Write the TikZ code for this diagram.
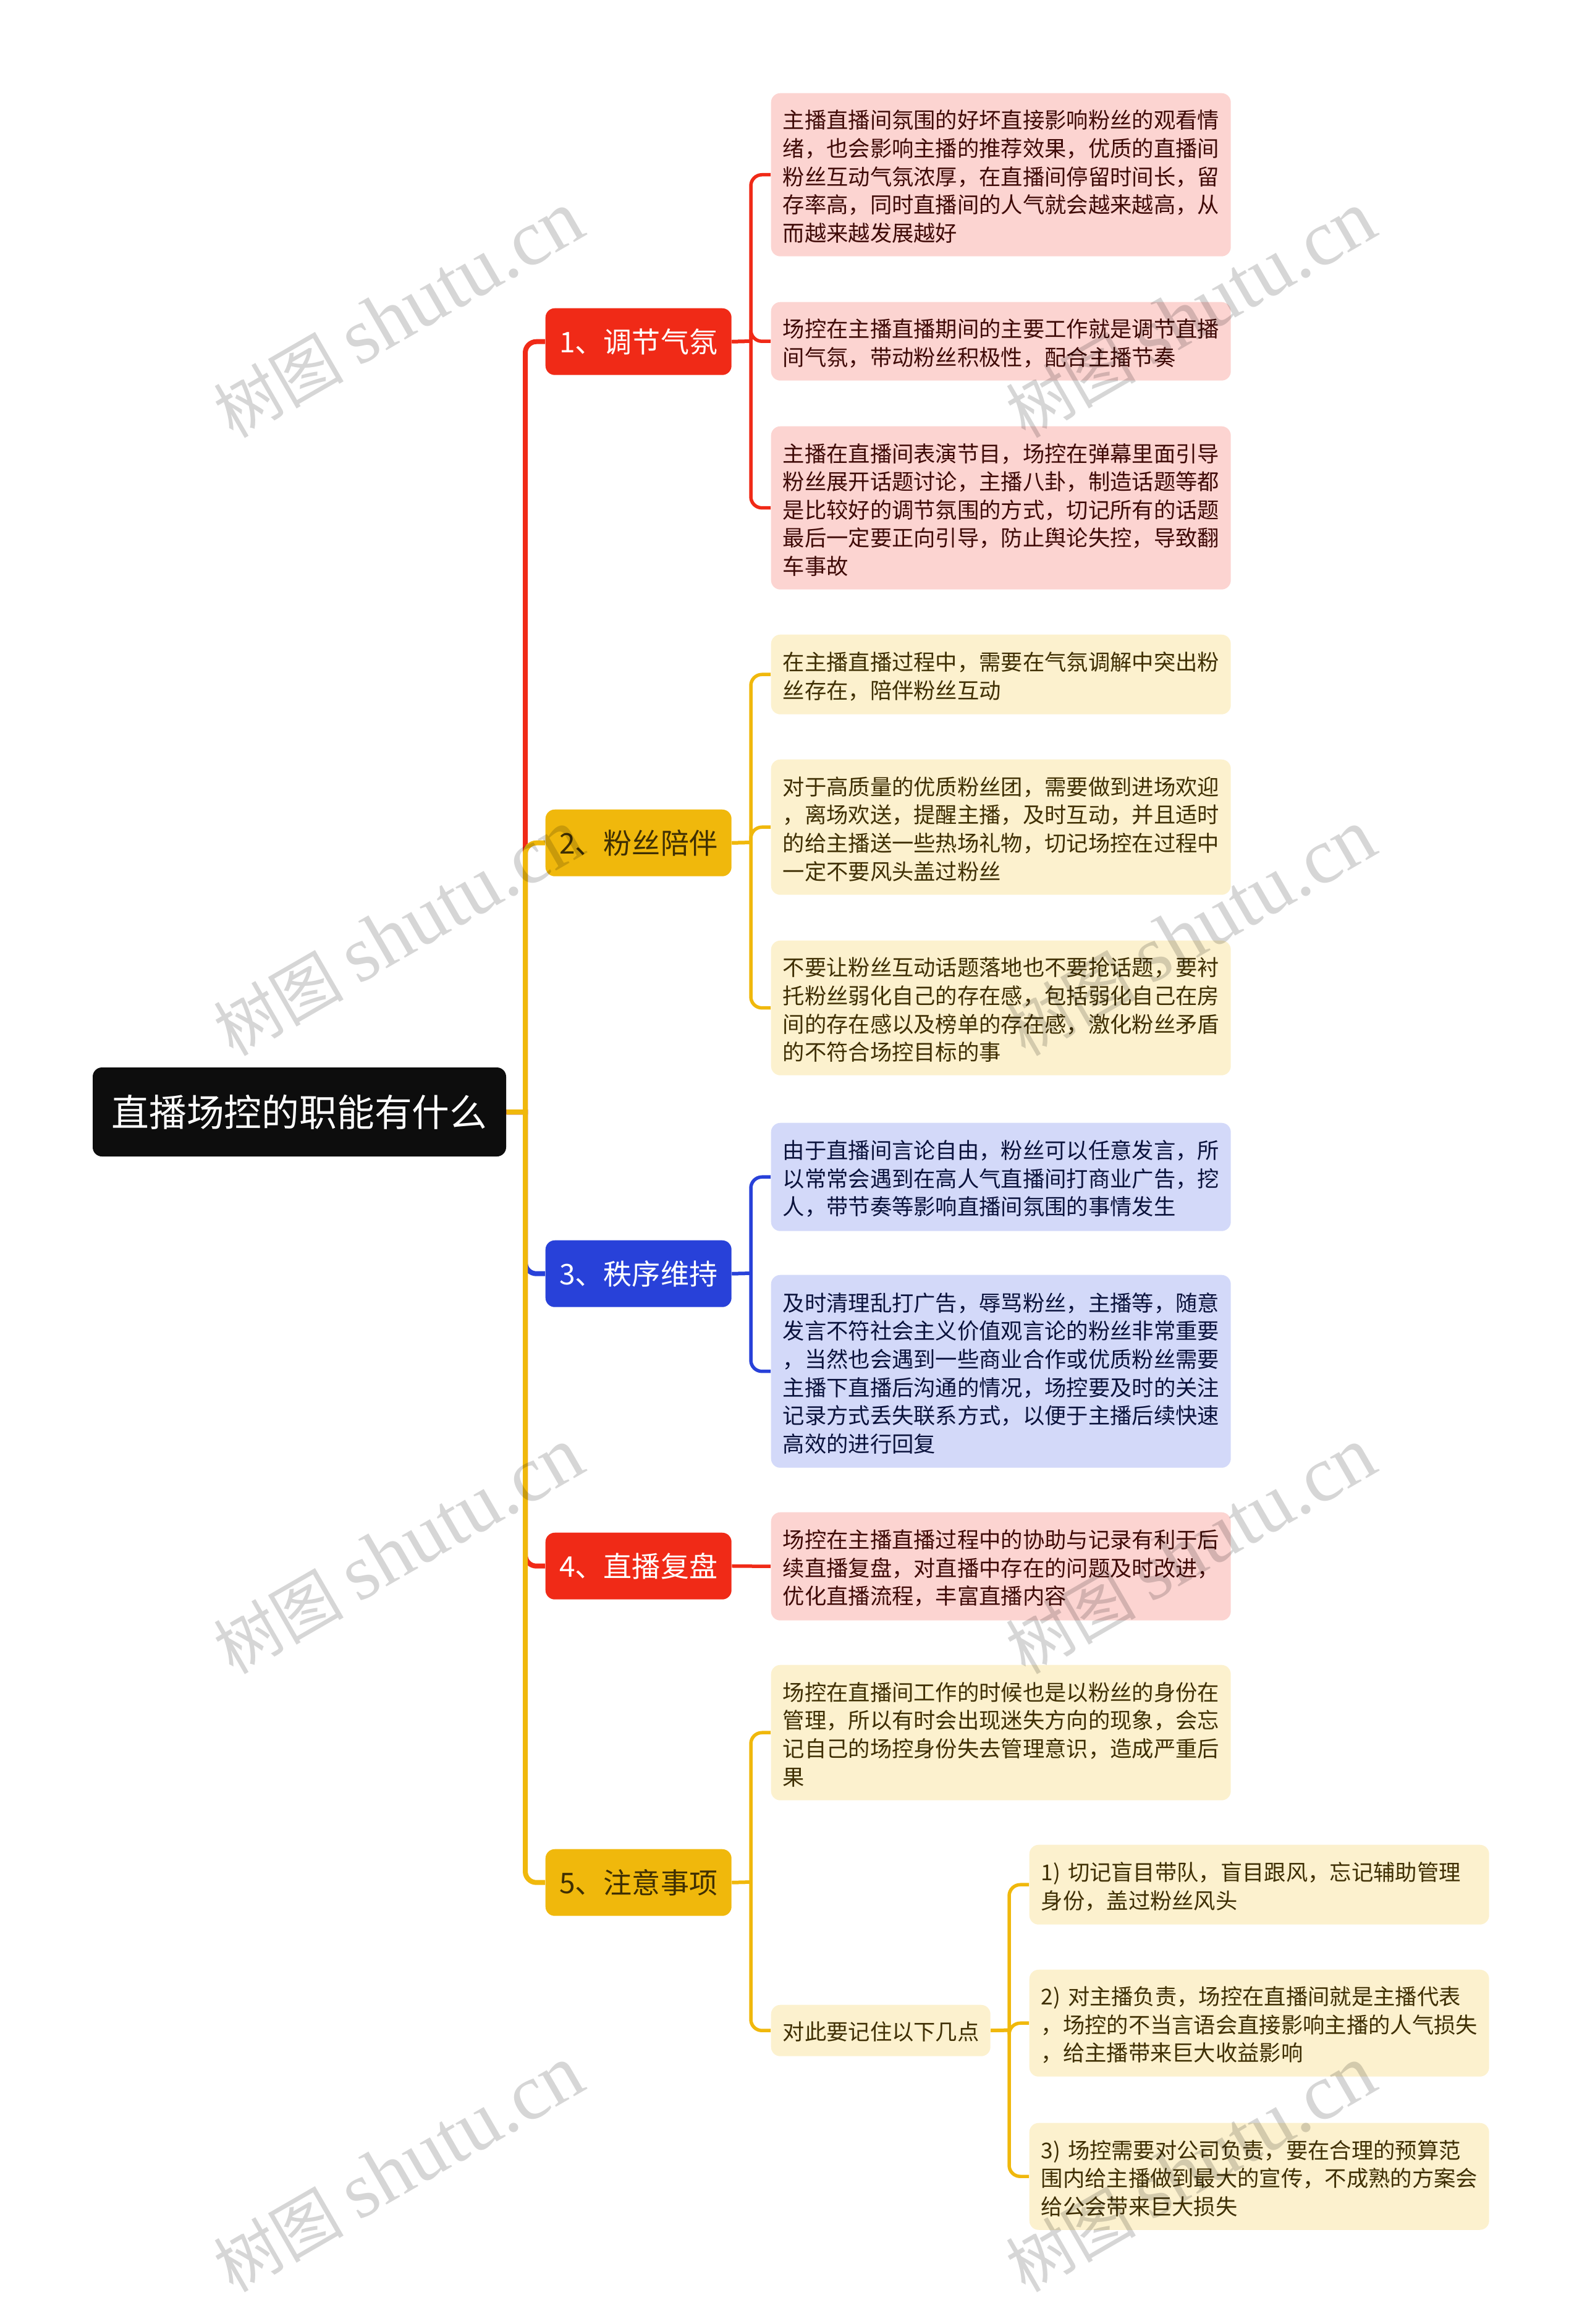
\documentclass[tikz,border=0pt]{standalone}
\usepackage{fontspec}
\setmainfont{Noto Sans CJK SC}
\newfontfamily\latinmark{Liberation Serif}
\definecolor{redmain}{HTML}{F02A17}
\definecolor{yellowmain}{HTML}{F0B80C}
\definecolor{bluemain}{HTML}{2841D9}
\definecolor{redsoft}{HTML}{FCD4D1}
\definecolor{yellowsoft}{HTML}{FCF1CE}
\definecolor{bluesoft}{HTML}{D3D9F9}
\definecolor{redink}{HTML}{3F0A07}
\definecolor{yellowink}{HTML}{3F2F03}
\definecolor{blueink}{HTML}{0A123C}
\newcommand{\linkdraw}[4]{\draw[#1] (#2) -- (#3) [rounded corners=.18cm] |- (#4)}
\tikzset{
  box/.style={rounded corners=.15cm, inner sep=0pt, inner xsep=.19cm, align=left, anchor=north west,
    text width=7.06cm, font=\fontsize{10.05}{12.97}\selectfont, execute at end node={\par\vspace*{-.06cm}}},
  leafred/.style={box, fill=redsoft, text=redink},
  leafyellow/.style={box, fill=yellowsoft, text=yellowink},
  leafblue/.style={box, fill=bluesoft, text=blueink},
  branch/.style={rounded corners=.15cm, anchor=north west, inner sep=0pt, minimum width=3.01cm, minimum height=1.08cm,
    font=\fontsize{13.1}{15}\selectfont},
  trunkline/.style={line width=.08cm},
  redline/.style={trunkline, draw=redmain},
  yellowline/.style={trunkline, draw=yellowmain},
  blueline/.style={trunkline, draw=bluemain},
  thinred/.style={line width=.055cm, draw=redmain},
  thinyellow/.style={line width=.055cm, draw=yellowmain},
  thinblue/.style={line width=.055cm, draw=bluemain},
}
\begin{document}
\begin{tikzpicture}[y=-1cm]
  \useasboundingbox (0,0) rectangle (25.6,37.6);

  \node[rounded corners=.15cm, fill=black!95, text=white, minimum width=6.69cm, minimum height=1.44cm, inner sep=0pt,
    font=\fontsize{17.3}{20}\selectfont] (root) at (4.845,17.99) {直播场控的职能有什么};

  \node[branch, fill=redmain, text=white] (b1) at (8.82,4.98) {1、调节气氛};
  \node[branch, fill=yellowmain, text=yellowink] (b2) at (8.82,13.09) {2、粉丝陪伴};
  \node[branch, fill=bluemain, text=white] (b3) at (8.82,20.06) {3、秩序维持};
  \node[branch, fill=redmain, text=white] (b4) at (8.82,24.79) {4、直播复盘};
  \node[branch, fill=yellowmain, text=yellowink] (b5) at (8.82,29.91) {5、注意事项};

  \node[leafred, minimum height=2.64cm] (l1) at (12.47,1.50) {主播直播间氛围的好坏直接影响粉丝的观看情\\绪，也会影响主播的推荐效果，优质的直播间\\粉丝互动气氛浓厚，在直播间停留时间长，留\\存率高，同时直播间的人气就会越来越高，从\\而越来越发展越好};
  \node[leafred, minimum height=1.27cm] (l2) at (12.47,4.88) {场控在主播直播期间的主要工作就是调节直播\\间气氛，带动粉丝积极性，配合主播节奏};
  \node[leafred, minimum height=2.64cm] (l3) at (12.47,6.89) {主播在直播间表演节目，场控在弹幕里面引导\\粉丝展开话题讨论，主播八卦，制造话题等都\\是比较好的调节氛围的方式，切记所有的话题\\最后一定要正向引导，防止舆论失控，导致翻\\车事故};

  \node[leafyellow, minimum height=1.29cm] (l4) at (12.47,10.26) {在主播直播过程中，需要在气氛调解中突出粉\\丝存在，陪伴粉丝互动};
  \node[leafyellow, minimum height=2.19cm] (l5) at (12.47,12.28) {对于高质量的优质粉丝团，需要做到进场欢迎\\，离场欢送，提醒主播，及时互动，并且适时\\的给主播送一些热场礼物，切记场控在过程中\\一定不要风头盖过粉丝};
  \node[leafyellow, minimum height=2.18cm] (l6) at (12.47,15.21) {不要让粉丝互动话题落地也不要抢话题，要衬\\托粉丝弱化自己的存在感，包括弱化自己在房\\间的存在感以及榜单的存在感，激化粉丝矛盾\\的不符合场控目标的事};

  \node[leafblue, minimum height=1.75cm] (l7) at (12.47,18.16) {由于直播间言论自由，粉丝可以任意发言，所\\以常常会遇到在高人气直播间打商业广告，挖\\人，带节奏等影响直播间氛围的事情发生};
  \node[leafblue, minimum height=3.12cm] (l8) at (12.47,20.62) {及时清理乱打广告，辱骂粉丝，主播等，随意\\发言不符社会主义价值观言论的粉丝非常重要\\，当然也会遇到一些商业合作或优质粉丝需要\\主播下直播后沟通的情况，场控要及时的关注\\记录方式丢失联系方式，以便于主播后续快速\\高效的进行回复};

  \node[leafred, minimum height=1.75cm] (l9) at (12.47,24.46) {场控在主播直播过程中的协助与记录有利于后\\续直播复盘，对直播中存在的问题及时改进，\\优化直播流程，丰富直播内容};

  \node[leafyellow, minimum height=2.19cm] (l10) at (12.47,26.93) {场控在直播间工作的时候也是以粉丝的身份在\\管理，所以有时会出现迷失方向的现象，会忘\\记自己的场控身份失去管理意识，造成严重后\\果};
  \node[leafyellow, text width=3.17cm, minimum height=.83cm] (s0) at (12.47,32.43) {对此要记住以下几点};
  \node[leafyellow, minimum height=1.29cm] (s1) at (16.65,29.84) {1) 切记盲目带队，盲目跟风，忘记辅助管理\\身份，盖过粉丝风头};
  \node[leafyellow, minimum height=1.73cm] (s2) at (16.65,31.86) {2) 对主播负责，场控在直播间就是主播代表\\，场控的不当言语会直接影响主播的人气损失\\，给主播带来巨大收益影响};
  \node[leafyellow, minimum height=1.73cm] (s3) at (16.65,34.34) {3) 场控需要对公司负责，要在合理的预算范\\围内给主播做到最大的宣传，不成熟的方案会\\给公会带来巨大损失};

  \coordinate (t0) at (8.50,17.99);
  \coordinate (t1) at (12.15,5.52);
  \coordinate (t2) at (12.15,13.63);
  \coordinate (t3) at (12.15,20.60);
  \coordinate (t5) at (12.15,30.45);
  \coordinate (t6) at (16.33,32.845);

  \linkdraw{redline}{root.east}{t0}{b1.west};
  \linkdraw{yellowline}{root.east}{t0}{b2.west};
  \linkdraw{blueline}{root.east}{t0}{b3.west};
  \linkdraw{redline}{root.east}{t0}{b4.west};
  \linkdraw{yellowline}{root.east}{t0}{b5.west};

  \linkdraw{thinred}{b1.east}{t1}{l1.west};
  \linkdraw{thinred}{b1.east}{t1}{l2.west};
  \linkdraw{thinred}{b1.east}{t1}{l3.west};
  \linkdraw{thinyellow}{b2.east}{t2}{l4.west};
  \linkdraw{thinyellow}{b2.east}{t2}{l5.west};
  \linkdraw{thinyellow}{b2.east}{t2}{l6.west};
  \linkdraw{thinblue}{b3.east}{t3}{l7.west};
  \linkdraw{thinblue}{b3.east}{t3}{l8.west};
  \draw[thinred] (b4.east) -- (l9.west);
  \linkdraw{thinyellow}{b5.east}{t5}{l10.west};
  \linkdraw{thinyellow}{b5.east}{t5}{s0.west};
  \linkdraw{thinyellow}{s0.east}{t6}{s1.west};
  \linkdraw{thinyellow}{s0.east}{t6}{s2.west};
  \linkdraw{thinyellow}{s0.east}{t6}{s3.west};

  % watermark
  \foreach \wx in {6.45,19.27}
    \foreach \wy in {5.10,15.10,25.10,35.10}
      \node[rotate=30, text=black, text opacity=.16, inner sep=0pt] (mark\wx\wy) at (\wx,\wy)
        {\fontsize{30}{36}\selectfont 树图 \fontsize{36.4}{42}\latinmark shutu.cn};
\end{tikzpicture}
\end{document}
